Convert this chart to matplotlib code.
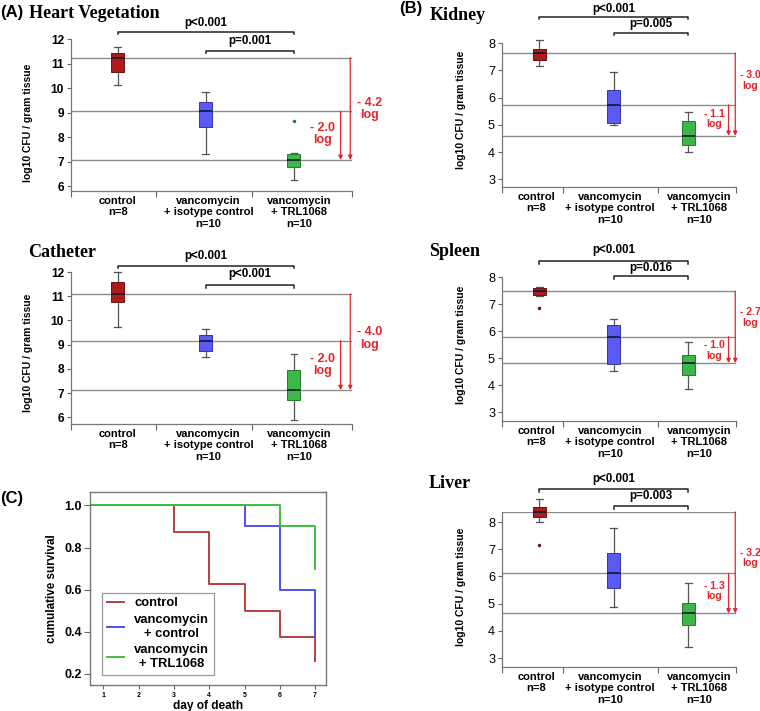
import matplotlib.pyplot as plt

plt.rcParams['font.family'] = ['Liberation Sans', 'DejaVu Sans']

# ---- data ----
groups = ['control\nn=8', 'vancomycin\n+ isotype control\nn=10', 'vancomycin\n+ TRL1068\nn=10']
box_colors = ['#ad1b1b', '#5b5bf3', '#3db749']
edge_colors = ['#6e1010', '#3535a5', '#247a2d']

heart_lo = [10.12, 7.29, 6.26]
heart_q1 = [10.66, 8.40, 6.78]
heart_med = [11.24, 9.05, 7.07]
heart_q3 = [11.44, 9.44, 7.32]
heart_hi = [11.69, 9.82, 7.35]
heart_fliers = [[], [], [8.66]]
heart_p = ['p<0.001', 'p=0.001']
heart_drop = ['- 2.0\nlog', '- 4.2\nlog']

catheter_lo = [9.72, 8.49, 5.88]
catheter_q1 = [10.76, 8.74, 6.70]
catheter_med = [11.09, 9.17, 7.13]
catheter_q3 = [11.59, 9.40, 7.97]
catheter_hi = [12.00, 9.65, 8.63]
catheter_fliers = [[], [], []]
catheter_p = ['p<0.001', 'p<0.001']
catheter_drop = ['- 2.0\nlog', '- 4.0\nlog']

kidney_lo = [7.14, 4.99, 4.01]
kidney_q1 = [7.36, 5.05, 4.27]
kidney_med = [7.63, 5.73, 4.60]
kidney_q3 = [7.79, 6.26, 5.15]
kidney_hi = [8.10, 6.92, 5.48]
kidney_fliers = [[], [], []]
kidney_p = ['p<0.001', 'p=0.005']
kidney_drop = ['- 1.1\nlog', '- 3.0\nlog']

spleen_lo = [7.30, 4.51, 3.87]
spleen_q1 = [7.33, 4.77, 4.39]
spleen_med = [7.47, 5.79, 4.82]
spleen_q3 = [7.59, 6.24, 5.11]
spleen_hi = [7.63, 6.45, 5.59]
spleen_fliers = [[6.87], [], []]
spleen_p = ['p<0.001', 'p=0.016']
spleen_drop = ['- 1.0\nlog', '- 2.7\nlog']

liver_lo = [8.02, 4.86, 3.41]
liver_q1 = [8.17, 5.57, 4.23]
liver_med = [8.37, 6.12, 4.64]
liver_q3 = [8.54, 6.88, 5.04]
liver_hi = [8.85, 7.78, 5.75]
liver_fliers = [[7.14], [], []]
liver_p = ['p<0.001', 'p=0.003']
liver_drop = ['- 1.3\nlog', '- 3.2\nlog']

# survival (Kaplan-Meier steps)
surv_labels = ['control', 'vancomycin\n+ control', 'vancomycin\n+ TRL1068']
surv_colors = ['#b5403f', '#5050ee', '#3fbf3f']
control_days = [0, 3, 4, 5, 6, 7]
control_surv = [1.0, 0.875, 0.625, 0.5, 0.375, 0.26]
vanc_days = [0, 5, 6, 7]
vanc_surv = [1.0, 0.9, 0.6, 0.38]
trl_days = [0, 6, 7]
trl_surv = [1.0, 0.9, 0.7]

RED = '#e3242b'
W, H = 760, 711
fig = plt.figure(figsize=(7.6, 7.11), dpi=100)


def px_axes(left, top, right, bottom):
    return fig.add_axes([left / W, 1 - bottom / H, (right - left) / W, (bottom - top) / H])


def box_panel(rect, ylim, yticks, xlim, seps, label_x, lo, q1, med, q3, hi, fliers,
              pvals, p_pos, drops, drop_pos, arrow_x, bold_ticks, width, ylab_xy):
    ax = px_axes(*rect)
    stats = [dict(whislo=lo[i], q1=q1[i], med=med[i], q3=q3[i], whishi=hi[i], fliers=fliers[i])
             for i in range(3)]
    # horizontal reference lines at the medians
    for m in med:
        ax.axhline(m, color='#8c8c8c', lw=1, zorder=1)
    bp = ax.bxp(stats, positions=[0, 1, 2], widths=width, patch_artist=True,
                medianprops=dict(color='#151530', lw=1.2),
                whiskerprops=dict(color='#555555', lw=0.9),
                capprops=dict(color='#555555', lw=0.9),
                flierprops=dict(marker='o', markersize=2.5, markeredgewidth=0))
    for i, b in enumerate(bp['boxes']):
        b.set_facecolor(box_colors[i])
        b.set_edgecolor(edge_colors[i])
        b.set_linewidth(0.7)
        b.set_zorder(3)
        bp['fliers'][i].set_markerfacecolor(edge_colors[i])
    for m in bp['medians']:
        m.set_zorder(4)
    for key in bp:
        for art in bp[key]:
            art.set_clip_on(False)

    ax.set_xlim(*xlim)
    ax.set_ylim(*ylim)
    ax.set_yticks(yticks)
    ax.tick_params(axis='y', length=3, width=0.8, color='#666666', pad=2,
                   labelsize=8.6 if bold_ticks else 9.2)
    for t in ax.get_yticklabels():
        t.set_fontweight('bold' if bold_ticks else 'normal')
    ax.set_xticks([xlim[0], seps[0], seps[1], xlim[1]])
    ax.set_xticklabels([])
    ax.tick_params(axis='x', which='major', length=4, width=0.8, color='#666666')
    ax.set_xticks(label_x, minor=True)
    ax.set_xticklabels(groups, minor=True, fontsize=8, fontweight='bold', linespacing=1.2)
    ax.tick_params(axis='x', which='minor', length=0, pad=3.5)
    for s in ['top', 'right']:
        ax.spines[s].set_visible(False)
    for s in ['left', 'bottom']:
        ax.spines[s].set_color('#777777')
        ax.spines[s].set_linewidth(0.9)
    ax.set_ylabel('log10 CFU / gram tissue', fontsize=7.5, fontweight='bold')
    ax.yaxis.set_label_coords(*ylab_xy)

    # significance brackets
    tick = 0.11 * (ylim[1] - ylim[0]) / 6.2
    for (x0, x1), (by, ty), txt in zip([(0, 2), (1, 2)], p_pos, pvals):
        ax.plot([x0, x0, x1, x1], [by - tick, by, by, by - tick], color='#222222', lw=1.1,
                clip_on=False)
        ax.text((x0 + x1) / 2, ty, txt, ha='center', va='center', fontsize=8.4,
                fontweight='bold')

    # red drop arrows and labels
    fs = 9 if bold_ticks else 7.6
    for src, x in zip([1, 0], arrow_x):
        ax.annotate('', xy=(x, med[2]), xytext=(x, med[src]),
                    arrowprops=dict(arrowstyle='-|>', color=RED, lw=0.9, mutation_scale=6,
                                    shrinkA=0, shrinkB=0),
                    annotation_clip=False)
    for txt, (tx, ty) in zip(drops, drop_pos):
        ax.text(tx, ty, txt, ha='center', va='center', color=RED, fontsize=fs,
                fontweight='bold', linespacing=1.05, clip_on=False)
    return ax


left_x = (-0.53, 2.66)
left_seps = (0.44, 1.52)
left_labels = [0, 1.03, 2.06]
right_x = (-0.50, 2.64)
right_seps = (0.32, 1.60)
right_labels = [-0.04, 0.95, 2.15]

box_panel((71, 39, 352, 191), (5.80, 12), range(6, 13), left_x, left_seps, left_labels,
          heart_lo, heart_q1, heart_med, heart_q3, heart_hi, heart_fliers,
          heart_p, [(12.30, 12.67), (11.52, 11.92)], heart_drop,
          [(2.33, 8.12), (2.86, 9.14)], [2.53, 2.64], True, 0.15, (-0.135, 0.45))

box_panel((71, 272, 352, 424), (5.73, 12), range(6, 13), left_x, left_seps, left_labels,
          catheter_lo, catheter_q1, catheter_med, catheter_q3, catheter_hi, catheter_fliers,
          catheter_p, [(12.26, 12.65), (11.45, 11.92)], catheter_drop,
          [(2.33, 8.16), (2.86, 9.25)], [2.53, 2.64], True, 0.15, (-0.135, 0.47))

box_panel((502, 43, 736, 187), (2.72, 8), range(3, 9), right_x, right_seps, right_labels,
          kidney_lo, kidney_q1, kidney_med, kidney_q3, kidney_hi, kidney_fliers,
          kidney_p, [(8.96, 9.25), (8.37, 8.68)], kidney_drop,
          [(2.35, 5.21), (2.83, 6.63)], [2.54, 2.63], False, 0.18, (-0.154, 0.535))

box_panel((502, 277, 736, 421), (2.68, 8), range(3, 9), right_x, right_seps, right_labels,
          spleen_lo, spleen_q1, spleen_med, spleen_q3, spleen_hi, spleen_fliers,
          spleen_p, [(8.59, 8.98), (8.02, 8.34)], spleen_drop,
          [(2.35, 5.28), (2.83, 6.50)], [2.54, 2.63], False, 0.18, (-0.154, 0.53))

box_panel((502, 512, 736, 667), (2.67, 8.37), range(3, 9), right_x, right_seps, right_labels,
          liver_lo, liver_q1, liver_med, liver_q3, liver_hi, liver_fliers,
          liver_p, [(9.22, 9.60), (8.58, 8.95)], liver_drop,
          [(2.35, 5.47), (2.83, 6.67)], [2.54, 2.63], False, 0.18, (-0.154, 0.52))

# ---- panel C: survival ----
axc = px_axes(90, 492, 326, 685)
for days, surv, col, lab in zip([control_days, vanc_days, trl_days],
                                [control_surv, vanc_surv, trl_surv],
                                surv_colors, surv_labels):
    axc.step(days, surv, where='post', color=col, lw=1.4, label=lab)
axc.set_xlim(0.62, 7.31)
axc.set_ylim(0.146, 1.064)
axc.set_xticks(range(1, 8))
axc.set_yticks([0.2, 0.4, 0.6, 0.8, 1.0])
axc.tick_params(axis='x', labelsize=5, length=3, pad=2, color='#666666')
axc.tick_params(axis='y', labelsize=9, length=4, pad=2, color='#666666')
for t in axc.get_xticklabels() + axc.get_yticklabels():
    t.set_fontweight('bold')
for s in axc.spines.values():
    s.set_color('#777777')
    s.set_linewidth(1)
axc.set_xlabel('day of death', fontsize=8.6, fontweight='bold', labelpad=1)
axc.set_ylabel('cumulative survival', fontsize=8.4, fontweight='bold', labelpad=4)
leg = axc.legend(loc='lower left', bbox_to_anchor=(0.025, 0.02), prop=dict(size=9.4, weight='bold'),
                 fancybox=False, edgecolor='#999999', framealpha=1, handlelength=1.3,
                 handletextpad=0.8, borderpad=0.35, labelspacing=0.35)
leg.get_frame().set_linewidth(0.9)
for t in leg.get_texts():
    t.set_multialignment('center')

# ---- titles and panel letters ----
serif = dict(family=['Liberation Serif', 'DejaVu Serif'], fontweight='bold', fontsize=13,
             va='center', ha='left')
fig.text(29 / W, 1 - 14 / H, 'Heart Vegetation', **serif)
fig.text(28 / W, 1 - 253 / H, 'Catheter', **serif)
fig.text(430 / W, 1 - 15 / H, 'Kidney', **serif)
fig.text(429 / W, 1 - 251 / H, 'Spleen', **serif)
fig.text(429 / W, 1 - 484 / H, 'Liver', **serif)
letter = dict(fontsize=12, fontweight='bold', va='center', ha='left')
fig.text(0 / W, 1 - 12 / H, '(A)', **letter)
fig.text(399 / W, 1 - 9 / H, '(B)', **letter)
fig.text(0 / W, 1 - 499 / H, '(C)', **letter)

fig.savefig('out.png', dpi=100)
